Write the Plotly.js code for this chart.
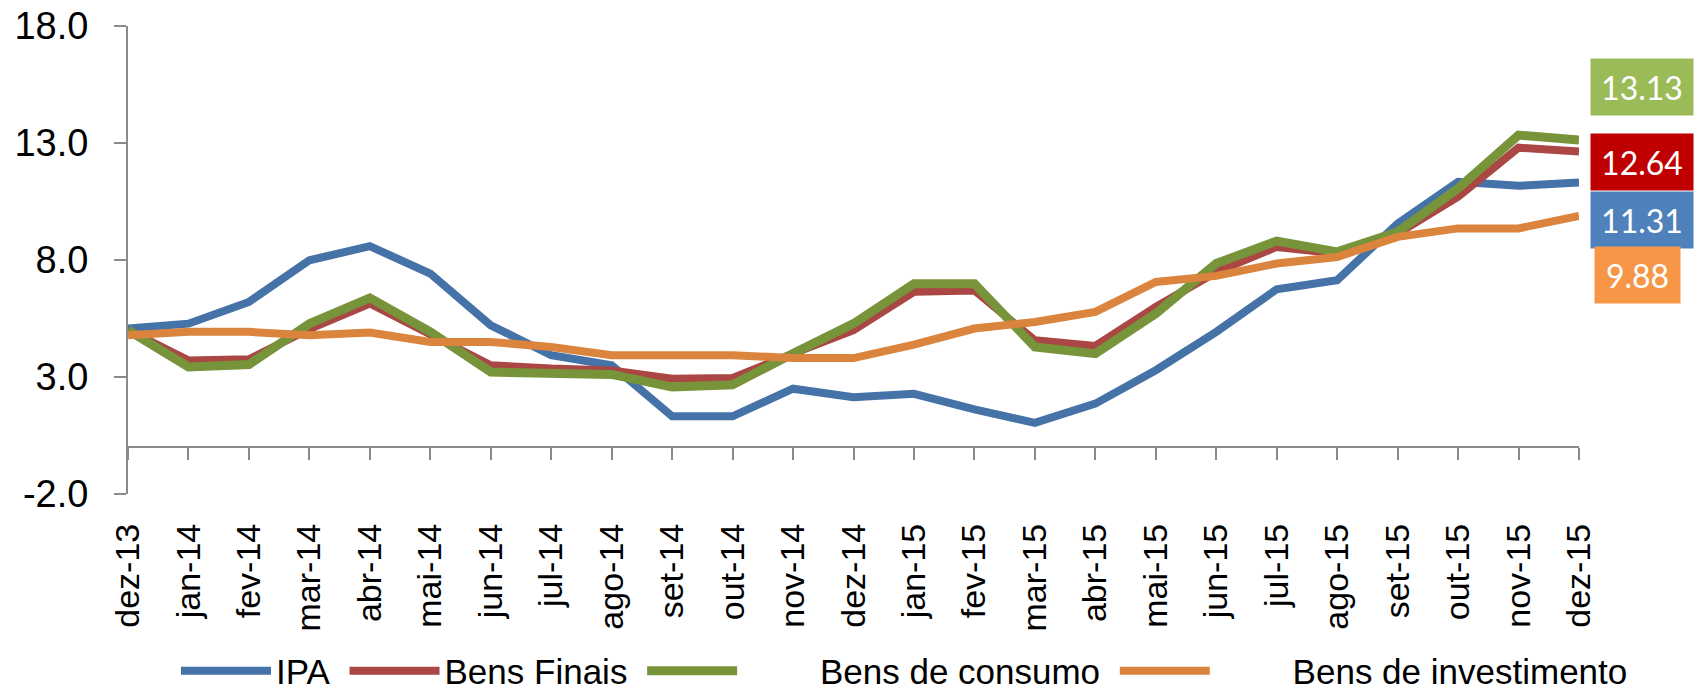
<!DOCTYPE html>
<html>
<head>
<meta charset="utf-8">
<script src="https://cdn.plot.ly/plotly-3.0.1.min.js"></script>
<style>html,body{margin:0;padding:0;background:#fff;}#chart{width:1694px;height:700px;}</style>
</head>
<body>
<div id="chart"></div>
<script>
const months = ["dez-13","jan-14","fev-14","mar-14","abr-14","mai-14","jun-14","jul-14","ago-14","set-14","out-14","nov-14","dez-14","jan-15","fev-15","mar-15","abr-15","mai-15","jun-15","jul-15","ago-15","set-15","out-15","nov-15","dez-15"];
const seriesNames = ["IPA", "Bens Finais", "Bens de consumo", "Bens de investimento"];
const ipa = [5.07,5.28,6.21,7.99,8.59,7.42,5.21,3.93,3.50,1.32,1.32,2.50,2.14,2.28,1.62,1.04,1.86,3.29,4.93,6.75,7.14,9.56,11.34,11.17,11.31];
const bensFinais = [5.00,3.71,3.76,5.05,6.14,4.85,3.50,3.36,3.28,2.93,2.96,4.00,5.00,6.64,6.70,4.57,4.33,5.99,7.49,8.56,8.28,9.13,10.70,12.80,12.64];
const bensConsumo = [5.00,3.43,3.53,5.28,6.38,4.93,3.21,3.14,3.11,2.57,2.67,4.00,5.28,6.99,6.99,4.28,4.00,5.71,7.85,8.81,8.35,9.20,11.06,13.34,13.13];
const bensInvest = [4.78,4.93,4.93,4.78,4.90,4.50,4.50,4.28,3.93,3.93,3.93,3.81,3.81,4.38,5.07,5.35,5.78,7.06,7.32,7.85,8.13,8.99,9.35,9.35,9.88];
const yTicks = [-2, 3, 8, 13, 18];
const yTickText = yTicks.map(v => v.toFixed(1));

const lineColors = ["#4572A7", "#AA4643", "#77943A", "#DB843D"];
const lineWidths = [8, 8, 9, 8];
const boxColors = ["#4F81BD", "#C00000", "#9BBB59", "#F79646"];
const nb = "\u00a0";
const legendLead = ["", "", nb.repeat(8), nb.repeat(8)];
const legendTrail = [nb, nb, nb, ""];
const allSeries = [ipa, bensFinais, bensConsumo, bensInvest];

const traces = allSeries.map((vals, i) => ({
  type: "scatter", mode: "lines",
  x: months, y: vals,
  name: legendLead[i] + seriesNames[i] + legendTrail[i],
  line: {color: lineColors[i], width: lineWidths[i], shape: "linear"},
  hoverinfo: "x+y"
}));

// end labels (stacked boxes at right)
const boxY = [0.5863, 0.7092, 0.8696, 0.4676];
const boxX = [1.0437, 1.0437, 1.0437, 1.0406];
const boxW = [102, 102, 102, 85];
const annotations = allSeries.map((vals, i) => ({
  xref: "paper", yref: "paper",
  x: boxX[i], y: boxY[i], xanchor: "center", yanchor: "middle",
  text: vals[vals.length - 1].toFixed(2),
  showarrow: false,
  bgcolor: boxColors[i],
  width: boxW[i], height: 56, borderpad: 0,
  font: {family: "Lato, 'Noto Sans', sans-serif", size: 32, color: "#ffffff"}
}));

const layout = {
  width: 1694, height: 700,
  margin: {l: 127.5, r: 114.5, t: 26, b: 206.3, autoexpand: false},
  paper_bgcolor: "#ffffff", plot_bgcolor: "#ffffff",
  showlegend: true,
  font: {family: "'Liberation Sans', Arial, sans-serif", color: "#000000"},
  xaxis: {
    type: "category", range: [0, 24],
    anchor: "free", position: 0.1,
    showline: true, linecolor: "#8a8a8a", linewidth: 2,
    ticks: "outside", ticklen: 12, tickwidth: 2, tickcolor: "#8a8a8a",
    tickangle: -90, ticklabelstandoff: 50,
    tickfont: {size: 34, color: "#000000"},
    showgrid: false, zeroline: false, fixedrange: true
  },
  yaxis: {
    range: [-2, 18], tickvals: yTicks, ticktext: yTickText,
    showline: true, linecolor: "#8a8a8a", linewidth: 2,
    ticks: "outside", ticklen: 12, tickwidth: 2, tickcolor: "#8a8a8a",
    ticklabelstandoff: 18,
    tickfont: {size: 38, color: "#000000"},
    showgrid: false, zeroline: false, fixedrange: true
  },
  legend: {
    orientation: "h", xanchor: "right", yanchor: "bottom",
    x: 1.0372, y: -0.441,
    itemwidth: 90,
    font: {size: 35, color: "#000000"},
    bgcolor: "rgba(0,0,0,0)", tracegroupgap: 0
  },
  annotations: annotations
};

Plotly.newPlot("chart", traces, layout, {displayModeBar: false, staticPlot: true});
</script>
</body>
</html>
